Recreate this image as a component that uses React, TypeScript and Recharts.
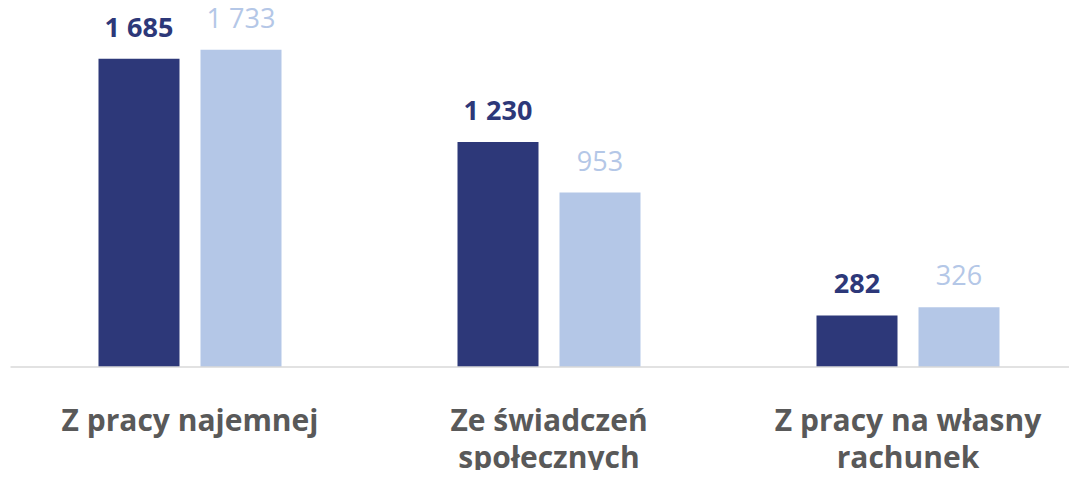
import React from "react";
import { BarChart, Bar, XAxis, YAxis, LabelList } from "recharts";

const categories = ["Z pracy najemnej", "Ze świadczeń\nspołecznych", "Z pracy na własny\nrachunek"];
const seriesA = [1685, 1230, 282];
const seriesB = [1733, 953, 326];

const data = categories.map((c, i) => ({ name: c, a: seriesA[i], b: seriesB[i] }));

const NAVY = "#2D3879";
const LIGHT = "#B4C7E7";
const GRAY = "#595959";
const FONT = "'Open Sans', sans-serif";

const fmt = (v: any) => String(v).replace(/\B(?=(\d{3})+(?!\d))/g, " ");

const Tick = (props: any) => {
  const { x, y, payload } = props;
  const lines = String(payload.value).split("\n");
  return (
    <g>
      {lines.map((l: string, i: number) => (
        <text
          key={i}
          x={x}
          y={y}
          dy={64 + i * 37}
          textAnchor="middle"
          fill={GRAY}
          fontFamily={FONT}
          fontWeight={700}
          fontSize={30}
        >
          {l}
        </text>
      ))}
    </g>
  );
};

export default function App() {
  return (
    <div style={{ margin: -8, width: 1077, height: 478, overflow: "hidden", background: "#fff" }}>
      <BarChart
        width={1088}
        height={478}
        data={data}
        margin={{ top: 1, left: 10.5, right: 0.5, bottom: 0 }}
        barSize={81}
        barGap={21}
      >
        <XAxis
          dataKey="name"
          height={111}
          tickLine={false}
          tickSize={0}
          tickMargin={0}
          axisLine={{ stroke: "#D9D9D9", strokeWidth: 1.5 }}
          tick={<Tick />}
          interval={0}
        />
        <YAxis hide domain={[0, 2000]} />
        <Bar dataKey="a" fill={NAVY} isAnimationActive={false}>
          <LabelList
            dataKey="a"
            position="top"
            offset={22}
            formatter={fmt}
            fill={NAVY}
            fontFamily={FONT}
            fontWeight={700}
            fontSize={27}
          />
        </Bar>
        <Bar dataKey="b" fill={LIGHT} isAnimationActive={false}>
          <LabelList
            dataKey="b"
            position="top"
            offset={22}
            formatter={fmt}
            fill={LIGHT}
            fontFamily={FONT}
            fontWeight={400}
            fontSize={27}
          />
        </Bar>
      </BarChart>
    </div>
  );
}
